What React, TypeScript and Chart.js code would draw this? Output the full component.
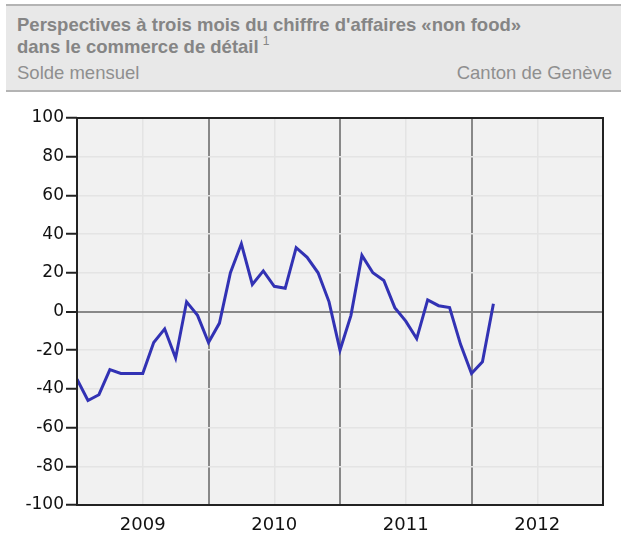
import React, { useEffect, useRef } from "react";
import { Chart, registerables } from "chart.js";

Chart.register(...registerables);

// Monthly balance, starting January 2009
const values: number[] = [
  -35, -46, -43, -30, -32, -32, -32, -16, -9, -24, 5, -2,
  -16, -6, 20, 35, 14, 21, 13, 12, 33, 28, 20, 5,
  -20, -2, 29, 20, 16, 2, -5, -14, 6, 3, 2, -17,
  -32, -26, 4,
];
const yearLabels: string[] = ["2009", "2010", "2011", "2012"];
const yTicks: number[] = [-100, -80, -60, -40, -20, 0, 20, 40, 60, 80, 100];

const TITLE1 = "Perspectives à trois mois du chiffre d'affaires «non food»";
const TITLE2 = "dans le commerce de détail";
const SUBTITLE_LEFT = "Solde mensuel";
const SUBTITLE_RIGHT = "Canton de Genève";

const plotBg = {
  id: "plotBg",
  beforeDraw(chart: any) {
    const { ctx, chartArea } = chart;
    ctx.save();
    ctx.fillStyle = "#f1f1f1";
    ctx.fillRect(chartArea.left, chartArea.top, chartArea.right - chartArea.left, chartArea.bottom - chartArea.top);
    ctx.restore();
  },
  afterDraw(chart: any) {
    const { ctx, chartArea } = chart;
    ctx.save();
    ctx.strokeStyle = "#222";
    ctx.lineWidth = 2;
    ctx.strokeRect(chartArea.left, chartArea.top, chartArea.right - chartArea.left, chartArea.bottom - chartArea.top);
    ctx.restore();
  },
};

export default function App() {
  const ref = useRef<HTMLCanvasElement | null>(null);
  useEffect(() => {
    if (!ref.current) return;
    Chart.defaults.font.family = "'DejaVu Sans', sans-serif";
    const data = values.map((v, i) => ({ x: i, y: v }));
    const chart = new Chart(ref.current, {
      type: "line",
      data: {
        datasets: [
          {
            data,
            borderColor: "#3232b4",
            borderWidth: 3,
            pointRadius: 0,
            tension: 0,
            fill: false,
          },
        ],
      },
      options: {
        animation: false,
        responsive: false,
        maintainAspectRatio: false,
        layout: { padding: { top: 18, right: 18, left: 0, bottom: 0 } },
        plugins: { legend: { display: false }, tooltip: { enabled: false } },
        scales: {
          x: {
            type: "linear",
            min: 0,
            max: yearLabels.length * 12,
            afterFit: (s: any) => {
              s.height = 32;
            },
            afterBuildTicks: (s: any) => {
              const t: any[] = [];
              for (let v = 0; v <= yearLabels.length * 12; v += 6) t.push({ value: v });
              s.ticks = t;
            },
            ticks: {
              autoSkip: false,
              maxRotation: 0,
              padding: 10,
              color: "#111",
              font: { size: 18 },
              callback: (v: any) => {
                const n = Number(v);
                if (n % 12 === 6) return yearLabels[(n - 6) / 12];
                return "";
              },
            },
            grid: {
              drawTicks: false,
              color: (c: any) => (c.tick && c.tick.value % 12 === 0 ? "#888" : "#e4e4e4"),
              lineWidth: (c: any) => (c.tick && c.tick.value % 12 === 0 ? 2 : 1.5),
            },
            border: { display: false },
          },
          y: {
            type: "linear",
            min: -100,
            max: 100,
            afterFit: (s: any) => {
              s.width = 77;
            },
            afterBuildTicks: (s: any) => {
              s.ticks = yTicks.map((v) => ({ value: v }));
            },
            ticks: {
              padding: 2,
              color: "#111",
              font: { size: 17 },
            },
            grid: {
              tickLength: 11,
              tickColor: "#222",
              tickWidth: 2,
              color: (c: any) => (c.tick && c.tick.value === 0 ? "#888" : "#e4e4e4"),
              lineWidth: (c: any) => (c.tick && c.tick.value === 0 ? 2 : 1.5),
            },
            border: { display: false },
          },
        },
      },
      plugins: [plotBg],
    } as any);
    return () => chart.destroy();
  }, []);

  return (
    <div style={{ position: "absolute", left: 0, top: 0, width: 621, height: 537, background: "#fff", fontFamily: "'Liberation Sans', Arial, sans-serif" }}>
      <div
        style={{
          position: "absolute",
          left: 6,
          top: 4,
          width: 615,
          height: 84,
          background: "#e8e8e8",
          borderTop: "2px solid #b4b4b4",
          borderBottom: "2px solid #b4b4b4",
        }}
      >
        <div style={{ position: "absolute", left: 11, top: 8, fontSize: 18.5, fontWeight: "bold", color: "#858585", lineHeight: "22px", whiteSpace: "nowrap" }}>
          <div style={{ height: 22 }}>{TITLE1}</div>
          <div style={{ height: 22 }}>
            {TITLE2}
            <span style={{ position: "relative", top: -8, fontSize: 12, fontWeight: "normal", marginLeft: 4, lineHeight: 0 }}>1</span>
          </div>
        </div>
        <div style={{ position: "absolute", left: 11, top: 56, fontSize: 18.5, color: "#8f8f8f", whiteSpace: "nowrap" }}>{SUBTITLE_LEFT}</div>
        <div style={{ position: "absolute", right: 9, top: 56, fontSize: 18.5, color: "#8f8f8f", whiteSpace: "nowrap" }}>{SUBTITLE_RIGHT}</div>
      </div>
      <canvas ref={ref} width={621} height={437} style={{ position: "absolute", left: 0, top: 100, width: 621, height: 437 }} />
    </div>
  );
}
